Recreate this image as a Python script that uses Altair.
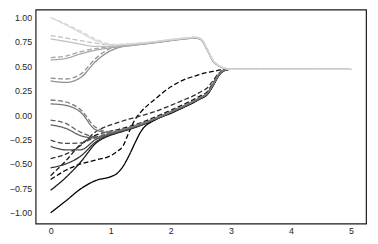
import altair as alt
import pandas as pd

X = [0, 0.25, 0.5, 0.75, 1.0, 1.1, 1.2, 1.3, 1.4, 1.5, 1.75, 2.0, 2.25, 2.4, 2.5, 2.6, 2.7, 2.8, 2.9, 3.0, 5.0]

S1 = [-1.0, -0.88, -0.755, -0.67, -0.63, -0.60, -0.53, -0.42, -0.29, -0.17, -0.045, 0.018, 0.09, 0.135, 0.17, 0.206, 0.297, 0.406, 0.458, 0.47, 0.47]
D1 = [-0.66, -0.565, -0.50, -0.46, -0.415, -0.375, -0.32, -0.18, -0.05, 0.03, 0.17, 0.29, 0.37, 0.40, 0.42, 0.435, 0.447, 0.46, 0.469, 0.47, 0.47]
S2 = [-0.77, -0.64, -0.48, -0.29, -0.205, -0.185, -0.167, -0.148, -0.128, -0.106, -0.043, 0.023, 0.093, 0.138, 0.173, 0.209, 0.30, 0.408, 0.459, 0.47, 0.47]
D2 = [-0.62, -0.47, -0.30, -0.205, -0.165, -0.15, -0.135, -0.118, -0.098, -0.078, -0.016, 0.05, 0.12, 0.166, 0.20, 0.236, 0.325, 0.42, 0.465, 0.47, 0.47]
S3 = [-0.54, -0.50, -0.42, -0.275, -0.20, -0.18, -0.163, -0.144, -0.124, -0.103, -0.04, 0.026, 0.096, 0.141, 0.176, 0.212, 0.303, 0.41, 0.46, 0.47, 0.47]
D3 = [-0.445, -0.40, -0.31, -0.17, -0.10, -0.08, -0.06, -0.042, -0.025, -0.008, 0.04, 0.10, 0.165, 0.205, 0.24, 0.275, 0.35, 0.43, 0.466, 0.47, 0.47]
S4 = [-0.32, -0.355, -0.355, -0.25, -0.195, -0.177, -0.16, -0.141, -0.121, -0.10, -0.038, 0.028, 0.098, 0.143, 0.178, 0.214, 0.305, 0.411, 0.461, 0.47, 0.47]
D4 = [-0.255, -0.29, -0.285, -0.225, -0.185, -0.168, -0.152, -0.134, -0.114, -0.094, -0.033, 0.032, 0.102, 0.147, 0.182, 0.218, 0.31, 0.414, 0.462, 0.47, 0.47]
S5 = [-0.10, -0.135, -0.21, -0.235, -0.19, -0.172, -0.155, -0.137, -0.117, -0.097, -0.036, 0.03, 0.10, 0.145, 0.18, 0.216, 0.308, 0.413, 0.462, 0.47, 0.47]
D5 = [-0.05, -0.085, -0.175, -0.222, -0.183, -0.166, -0.15, -0.132, -0.112, -0.092, -0.031, 0.034, 0.104, 0.149, 0.184, 0.22, 0.312, 0.416, 0.463, 0.47, 0.47]
S6 = [0.115, 0.10, 0.03, -0.15, -0.18, -0.165, -0.15, -0.133, -0.113, -0.093, -0.033, 0.032, 0.102, 0.147, 0.182, 0.218, 0.31, 0.415, 0.463, 0.47, 0.47]
D6 = [0.155, 0.135, 0.055, -0.125, -0.172, -0.158, -0.144, -0.128, -0.108, -0.088, -0.028, 0.036, 0.106, 0.151, 0.186, 0.222, 0.315, 0.418, 0.464, 0.47, 0.47]
S7 = [0.35, 0.335, 0.385, 0.55, 0.66, 0.685, 0.702, 0.71, 0.717, 0.724, 0.742, 0.763, 0.781, 0.789, 0.773, 0.675, 0.555, 0.502, 0.478, 0.47, 0.47]
D7 = [0.38, 0.37, 0.42, 0.58, 0.685, 0.702, 0.712, 0.716, 0.721, 0.727, 0.745, 0.765, 0.783, 0.791, 0.775, 0.677, 0.557, 0.503, 0.479, 0.47, 0.47]
S8 = [0.565, 0.58, 0.628, 0.665, 0.69, 0.698, 0.706, 0.713, 0.72, 0.727, 0.745, 0.766, 0.783, 0.791, 0.775, 0.677, 0.557, 0.503, 0.479, 0.47, 0.47]
D8 = [0.59, 0.605, 0.65, 0.682, 0.70, 0.706, 0.712, 0.718, 0.724, 0.73, 0.748, 0.768, 0.785, 0.793, 0.777, 0.679, 0.559, 0.504, 0.48, 0.47, 0.47]
S9 = [0.78, 0.755, 0.727, 0.703, 0.705, 0.71, 0.716, 0.721, 0.727, 0.733, 0.749, 0.769, 0.786, 0.794, 0.778, 0.68, 0.56, 0.505, 0.48, 0.47, 0.47]
D9 = [0.815, 0.79, 0.762, 0.737, 0.718, 0.716, 0.72, 0.725, 0.73, 0.736, 0.752, 0.772, 0.789, 0.797, 0.781, 0.683, 0.563, 0.507, 0.481, 0.47, 0.47]
S10 = [1.0, 0.925, 0.845, 0.765, 0.72, 0.72, 0.724, 0.728, 0.733, 0.738, 0.753, 0.773, 0.79, 0.798, 0.782, 0.685, 0.565, 0.508, 0.481, 0.47, 0.47]
D10 = [1.0, 0.935, 0.86, 0.78, 0.728, 0.725, 0.727, 0.73, 0.735, 0.74, 0.756, 0.776, 0.793, 0.80, 0.785, 0.69, 0.568, 0.51, 0.482, 0.47, 0.47]

GRAYS = ["#000000", "#181818", "#303030", "#484848", "#606060",
         "#787878", "#909090", "#a8a8a8", "#c0c0c0", "#d8d8d8"]

SOLIDS = [S1, S2, S3, S4, S5, S6, S7, S8, S9, S10]
DASHES = [D1, D2, D3, D4, D5, D6, D7, D8, D9, D10]

rows = []
names = []
colors = []
for i in range(10):
    for style, ys in (("solid", SOLIDS[i]), ("dashed", DASHES[i])):
        name = f"{style}{i + 1}"
        names.append(name)
        colors.append(GRAYS[i])
        for xv, yv in zip(X, ys):
            rows.append({"series": name, "style": style, "x": xv, "y": yv})
df = pd.DataFrame(rows)

chart = alt.Chart(df).mark_line(strokeWidth=1.3, interpolate="monotone").encode(
    x=alt.X("x:Q", scale=alt.Scale(domain=[-0.25, 5.25], nice=False, zero=False),
            axis=alt.Axis(values=[0, 1, 2, 3, 4, 5], format="d", title=None)),
    y=alt.Y("y:Q", scale=alt.Scale(domain=[-1.111, 1.081], nice=False, zero=False),
            axis=alt.Axis(values=[-1, -0.75, -0.5, -0.25, 0, 0.25, 0.5, 0.75, 1.0],
                          format=".2f", title=None)),
    color=alt.Color("series:N", scale=alt.Scale(domain=names, range=colors), legend=None),
    strokeDash=alt.StrokeDash("style:N", scale=alt.Scale(domain=["solid", "dashed"],
                              range=[[1, 0], [5, 2.5]]), legend=None),
    detail="series:N",
).properties(
    width=335, height=217,
    autosize=alt.AutoSizeParams(type="none"),
    padding={"left": 28, "top": 0, "right": 4, "bottom": 14},
).configure_view(
    stroke="#1a1a1a", strokeWidth=1.2
).configure_axis(
    grid=False, ticks=False, domain=False,
    labelFont="Liberation Sans", labelFontSize=9, labelColor="#262626",
).configure_axisY(labelPadding=4).configure_axisX(labelPadding=3)

chart.save("out.html", embed_options={"renderer": "svg", "actions": False})
